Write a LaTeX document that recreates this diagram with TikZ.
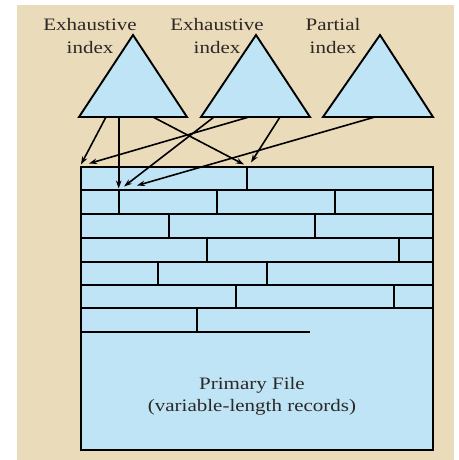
\documentclass[tikz,border=0pt]{standalone}
\usepackage{fontspec}
\setmainfont{Liberation Serif}[FakeStretch=1.2]
\usetikzlibrary{arrows.meta}
\definecolor{parch}{RGB}{234,219,186}
\definecolor{fileblue}{RGB}{190,228,245}
\definecolor{txt}{RGB}{45,40,38}
\begin{document}
\begin{tikzpicture}[x=1pt,y=-1pt,
  tri/.style={draw=black,fill=fileblue,line width=1.9pt,line join=miter},
  rec/.style={draw=black,line width=2.4pt},
  sep/.style={draw=black,line width=2.2pt},
  ptr/.style={-{Stealth[length=8pt,width=5.5pt]},line width=1.6pt,draw=black},
  lbl/.style={font=\fontsize{17.5}{22}\selectfont,text=txt,anchor=base,inner sep=0pt}]
\useasboundingbox (0,0) rectangle (458,460);
\fill[white] (0,0) rectangle (458,460);
\fill[parch] (17,5) rectangle (454,460);

% index triangles
\draw[tri] (79,117) -- (133,35) -- (187,117) -- cycle;
\draw[tri] (201,117) -- (256,35) -- (310,117) -- cycle;
\draw[tri] (323,117) -- (380,35) -- (433,117) -- cycle;

% labels
\node[lbl] (l1a) at (90,31) {Exhaustive};
\node[lbl] (l1b) at (90,53) {index};
\node[lbl] (l2a) at (217,31) {Exhaustive};
\node[lbl] (l2b) at (217,53) {index};
\node[lbl] (l3a) at (333,31) {Partial};
\node[lbl] (l3b) at (333,53) {index};

% primary file
\draw[rec,fill=fileblue] (80.7,166.7) rectangle (433,450);
\foreach \y in {190,214,237.7,261.7,285,308.3}
  \draw[sep] (80.7,\y) -- (433,\y);
\draw[sep] (80.7,332) -- (310,332);
% row dividers
\draw[sep] (246.7,166.7) -- (246.7,190);
\foreach \x in {119.3,217,335.3} \draw[sep] (\x,190) -- (\x,214);
\foreach \x in {168.7,315.3} \draw[sep] (\x,214) -- (\x,237.7);
\foreach \x in {207,398.7} \draw[sep] (\x,237.7) -- (\x,261.7);
\foreach \x in {157.7,266.7} \draw[sep] (\x,261.7) -- (\x,285);
\foreach \x in {236.3,394} \draw[sep] (\x,285) -- (\x,308.3);
\draw[sep] (197,308.3) -- (197,332);

\node[lbl] (pf1) at (252,389) {Primary File};
\node[lbl] (pf2) at (252,411) {(variable-length records)};

% pointer end points
\coordinate (s1) at (106,117);   \coordinate (e1) at (81,164.5);
\coordinate (s2) at (118.7,117); \coordinate (e2) at (118.7,188.5);
\coordinate (s3) at (153,117);   \coordinate (e3) at (244,164.5);
\coordinate (s4) at (249,117);   \coordinate (e4) at (89,163.5);
\coordinate (s5) at (214,117);   \coordinate (e5) at (124,186.5);
\coordinate (s6) at (280,117);   \coordinate (e6) at (251,162.5);
\coordinate (s7) at (375,117);   \coordinate (e7) at (137,185.5);
\foreach \i in {1,...,7} \draw[ptr] (s\i) -- (e\i);
\end{tikzpicture}
\end{document}
